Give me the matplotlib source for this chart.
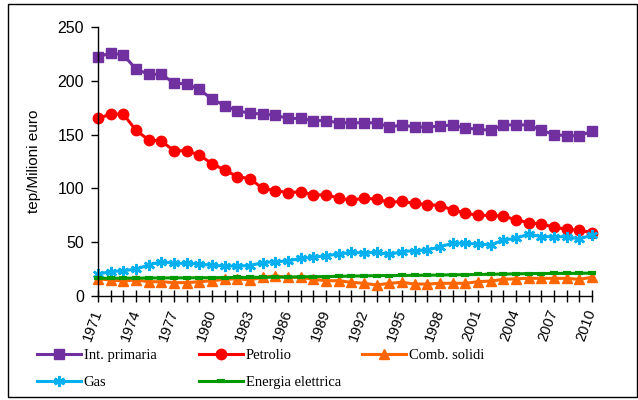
import matplotlib
matplotlib.use("Agg")
import matplotlib.pyplot as plt
from matplotlib.patches import Rectangle

years = list(range(1971, 2011))

int_primaria = [222, 226, 224, 211, 206, 206, 198, 197, 192, 183, 177, 172, 170, 169, 168, 165, 165, 163, 163, 161,
                161, 161, 161, 157, 159, 157, 157, 158, 159, 156, 155, 154, 159, 159, 159, 154, 150, 149, 149, 153]
petrolio = [165, 169, 169, 154, 145, 144, 135, 135, 131, 123, 117, 111, 109, 100, 98, 96, 97, 94, 94, 91,
            89, 91, 90, 87, 88, 86, 85, 84, 80, 77, 75, 75, 74, 71, 68, 67, 64, 62, 61, 59]
comb_solidi = [16, 14.9, 13.9, 14.9, 13.3, 13.3, 12.4, 12.4, 13.3, 14.2, 15.5, 16, 14.9, 17.4, 18.6, 17.4, 17.4, 15.5, 14.2, 14.2,
               12.7, 11.8, 10.2, 11.8, 12.7, 11.1, 11.1, 11.8, 11.8, 11.8, 13.3, 13.9, 15.5, 16, 16.4, 16.4, 16.4, 16.4, 15.5, 17.4]
gas = [20.4, 22.6, 23.5, 25, 28.8, 31.9, 30.4, 30.4, 29.7, 28.5, 27.9, 27.9, 28.3, 31, 31.9, 32.5, 35, 36, 37.5, 39,
       40.5, 40, 40.5, 38.7, 41.2, 42.1, 42.7, 45.8, 49, 49, 48.3, 47.4, 52, 53.6, 57.6, 55.1, 55.1, 55.1, 53, 56.7]
energia = [16.4, 16.5, 16.6, 16.6, 16.7, 16.8, 16.8, 16.9, 17, 17, 17.1, 17.2, 17.3, 17.4, 17.5, 17.6, 17.8, 17.9, 18.1, 18.3,
           18.5, 18.7, 18.9, 19, 19.1, 19.2, 19.3, 19.5, 19.7, 19.8, 20, 20.2, 20.4, 20.6, 20.8, 20.9, 21, 21, 21.1, 21.3]

tick_labels = [str(y) if (y - 1971) % 3 == 0 else "" for y in years]
y_ticks = [0, 50, 100, 150, 200, 250]

series = [
    ("Int. primaria", int_primaria, "#7030A0", "s", 7, {}),
    ("Petrolio", petrolio, "#FF0000", "o", 7.5, {}),
    ("Comb. solidi", comb_solidi, "#FF6600", "^", 7.5, {}),
    ("Gas", gas, "#00B0F0", (6, 2, 0), 8, {"markeredgewidth": 1.8}),
    ("Energia elettrica", energia, "#009A00", "_", 6, {"markeredgewidth": 3}),
]

W, H = 638, 400
fig = plt.figure(figsize=(W / 100, H / 100), dpi=100)
ax = fig.add_axes([98 / W, 1 - 296 / H, (592 - 98) / W, (296 - 27) / H])

handles = {}
for name, vals, col, mk, ms, extra in series:
    ln, = ax.plot(years, vals, color=col, marker=mk, markersize=ms, linewidth=2.2,
                  markeredgecolor=col, markerfacecolor=col, clip_on=False, label=name, **extra)
    handles[name] = ln

ax.set_xlim(1971, 2010)
ax.set_ylim(0, 250)
ax.set_yticks(y_ticks)
ax.set_xticks(years)
ax.set_xticklabels(tick_labels, rotation=70, ha="right", va="center", rotation_mode="anchor",
                   family="Liberation Sans", fontsize=10.5)
ax.tick_params(axis="x", direction="inout", length=8, width=1, pad=6)
ax.tick_params(axis="y", direction="out", length=5, width=1, labelsize=11.5, pad=5)
for lab in ax.get_yticklabels():
    lab.set_family("Liberation Sans")
for s in ["top", "right"]:
    ax.spines[s].set_visible(False)
for s in ["left", "bottom"]:
    ax.spines[s].set_linewidth(1)
ax.set_ylabel("tep/Milioni euro", family="Liberation Sans", fontsize=11, labelpad=12)

legend_cols = [
    (37, ["Int. primaria", "Gas"]),
    (199, ["Petrolio", "Energia elettrica"]),
    (362, ["Comb. solidi"]),
]
for x0, names in legend_cols:
    fig.legend([handles[n] for n in names], names, loc="upper left",
               bbox_to_anchor=(x0 / W, 1 - 349 / H), frameon=False,
               prop={"family": "Liberation Serif", "size": 10.5},
               handlelength=3.0, handletextpad=0.2, borderpad=0, borderaxespad=0,
               labelspacing=0.95)

fig.patches.append(Rectangle((7.5 / W, 3.5 / H), (636.5 - 7.5) / W, (396.5 - 3.5) / H,
                             transform=fig.transFigure, fill=False, edgecolor="black", linewidth=1))

fig.savefig("out.png", dpi=100)
